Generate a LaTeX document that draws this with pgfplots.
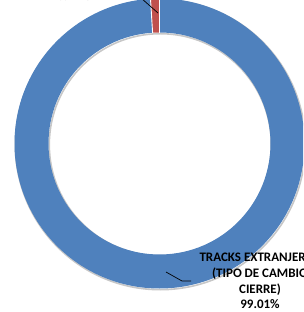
\documentclass[border=0pt]{standalone}
\usepackage{pgfplots}
\pgfplotsset{compat=1.18}
\usepackage{pgfplotstable}
\usepackage{fontspec}
\setmainfont{Carlito}
\definecolor{sliceblue}{HTML}{4F81BD}
\definecolor{slicered}{HTML}{C0504D}
\pgfplotstableread{
share
99.01
0.99
}\sharedata
\begin{document}
\begin{tikzpicture}
\useasboundingbox (0,0) rectangle (303pt,312pt);
\clip (0,0) rectangle (303pt,312pt);
\pgfplotstablegetelem{0}{share}\of\sharedata \let\shareA\pgfplotsretval
\pgfplotstablegetelem{1}{share}\of\sharedata \let\shareB\pgfplotsretval
\pgfmathsetmacro\angA{90-3.6*\shareA}
\pgfmathsetmacro\angB{\angA-3.6*\shareB}
\begin{axis}[at={(0,0)},anchor=south west, scale only axis, width=303pt, height=312pt,
  xmin=0,xmax=303,ymin=0,ymax=312, hide axis, clip=false, enlargelimits=false]
% shadow
\draw[black!22, line width=1.6pt, shift={(axis cs:160.3,167.3)}] (0,0) circle[radius=145pt];
\draw[black!22, line width=1.6pt, shift={(axis cs:160.3,167.3)}] (0,0) circle[radius=111pt];
% slices
\fill[sliceblue, shift={(axis cs:159.5,168.5)}] (90:145pt) arc[start angle=90, end angle=\angA, radius=145pt] -- (\angA:111pt) arc[start angle=\angA, end angle=90, radius=111pt] -- cycle;
\fill[slicered, shift={(axis cs:159.5,168.5)}] (\angA:145pt) arc[start angle=\angA, end angle=\angB, radius=145pt] -- (\angB:111pt) arc[start angle=\angB, end angle=\angA, radius=111pt] -- cycle;
\draw[white, line width=0.9pt, shift={(axis cs:159.5,168.5)}] (90:110.5pt) -- (90:145.5pt);
\draw[white, line width=0.9pt, shift={(axis cs:159.5,168.5)}] (\angA:110.5pt) -- (\angA:145.5pt);
% leader lines
\draw[black, line width=0.7pt] (axis cs:141,314) -- (axis cs:158,299);
\draw[black, line width=0.7pt] (axis cs:166,40) -- (axis cs:182,31) -- (axis cs:191,31);
% labels
\node[font=\bfseries\fontsize{13}{15.5}\selectfont, anchor=base, inner sep=0pt] at (axis cs:74,311.8) {0.99\%};
\node[font=\bfseries\fontsize{13}{15.5}\selectfont, anchor=base, inner sep=0pt] at (axis cs:260,50) {TRACKS EXTRANJEROS};
\node[font=\bfseries\fontsize{13}{15.5}\selectfont, anchor=base, inner sep=0pt] at (axis cs:260,34.5) {(TIPO DE CAMBIO};
\node[font=\bfseries\fontsize{13}{15.5}\selectfont, anchor=base, inner sep=0pt] at (axis cs:260,19) {CIERRE)};
\node[font=\bfseries\fontsize{13}{15.5}\selectfont, anchor=base, inner sep=0pt] at (axis cs:260,3.5) {99.01\%};
\end{axis}
\end{tikzpicture}
\end{document}
